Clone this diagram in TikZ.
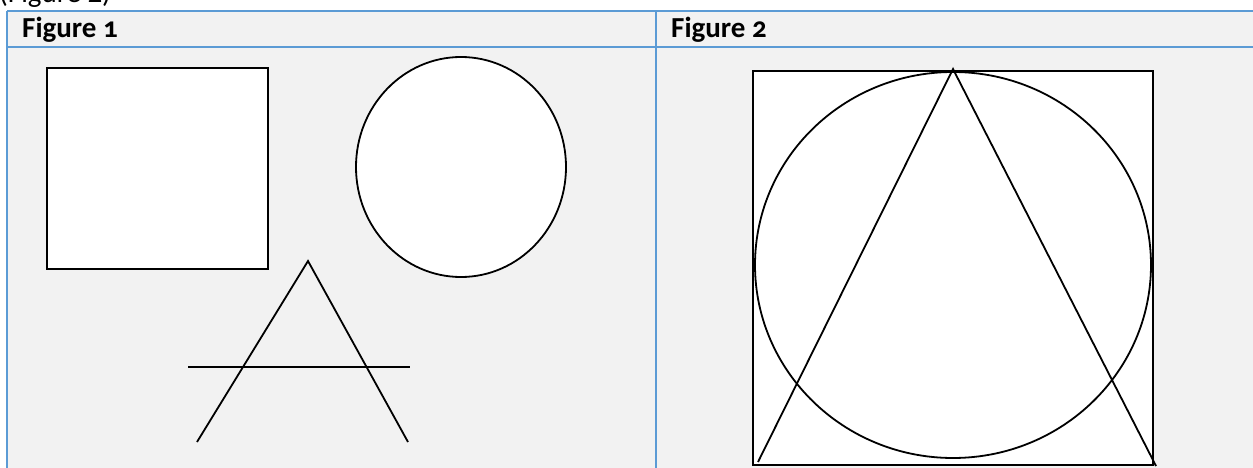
\documentclass[tikz,border=0pt]{standalone}
\usepackage{fontspec}
\setmainfont{Carlito}[Numbers=OldStyle]
\definecolor{tblblue}{HTML}{5B9BD5}
\definecolor{cellgray}{HTML}{F2F2F2}
\begin{document}
\begin{tikzpicture}[
    x=1pt, y=-1pt,
    rule/.style={draw=tblblue, line width=1.8pt},
    outline/.style={draw=black, line width=1.8pt, fill=white},
    stroke/.style={draw=black, line width=1.8pt},
    head/.style={font=\bfseries\fontsize{29}{33}\selectfont, anchor=base west, inner sep=0pt}
]
\useasboundingbox (0,0) rectangle (1253,468);
% table cells
\fill[cellgray] (7,11) rectangle (1253,468);
\node[inner sep=0pt, anchor=base west, font=\fontsize{29}{33}\selectfont] (cap) at (-1,3) {(Figure 2)};
\node[head] (h1) at (22,38) {Figure 1};
\node[head] (h2) at (671,38) {Figure 2};
\draw[rule] (7,11) -- (1253,11);
\draw[rule] (7,47) -- (1253,47);
\draw[rule] (7,11) -- (7,468);
\draw[rule] (656,11) -- (656,468);
% figure 1
\draw[outline] (47,68) rectangle (268,269);
\draw[outline] (461,167) ellipse [x radius=105, y radius=110];
\coordinate (a1) at (308,261);
\coordinate (l1) at (197,442);
\coordinate (r1) at (408,442);
\draw[stroke] (l1) -- (a1) -- (r1);
\draw[stroke] (188,367) -- (410,367);
% figure 2
\draw[outline] (753,71) rectangle (1153,465);
\draw[stroke] (953,265) ellipse [x radius=198, y radius=193];
\coordinate (a2) at (953,69);
\coordinate (l2) at (758,462);
\coordinate (r2) at (1156,466);
\draw[stroke] (l2) -- (a2) -- (r2);
\end{tikzpicture}
\end{document}
